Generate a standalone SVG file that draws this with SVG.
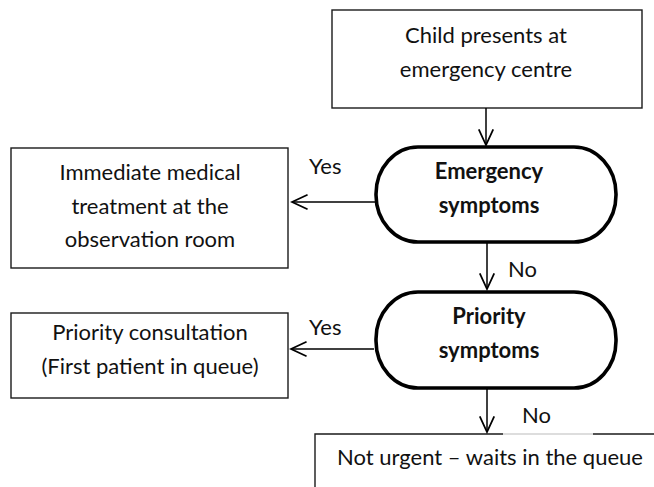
<svg xmlns="http://www.w3.org/2000/svg" width="654" height="487" viewBox="0 0 654 487">
<style>
.box{fill:#fff;stroke:#1a1a1a;stroke-width:1.4}
.term{fill:#fff;stroke:#000;stroke-width:3.6}
.t{font-family:Lato,"Liberation Sans",sans-serif;font-size:22px;fill:#111;text-anchor:middle}
.b{font-weight:bold}
.lbl{font-family:Lato,"Liberation Sans",sans-serif;font-size:22px;fill:#111}
.c{fill:none;stroke:#000;stroke-width:1.5}
</style>
<defs>
<marker id="ah" markerUnits="userSpaceOnUse" markerWidth="20" markerHeight="20" refX="0" refY="0" viewBox="-16 -8 18 16" orient="auto">
<path d="M-14,-6.5 L0,0 L-14,6.5" fill="none" stroke="#000" stroke-width="1.6"/>
</marker>
</defs>
<rect width="654" height="487" fill="#fff"/>
<g id="start">
<rect class="box" x="332" y="10" width="310" height="98"/>
<text class="t" x="486" y="43">Child presents at</text>
<text class="t" x="486" y="77">emergency centre</text>
</g>
<g id="emergency">
<rect class="term" x="376" y="147" width="240" height="95" rx="42" ry="47"/>
<text class="t b" x="489" y="179">Emergency</text>
<text class="t b" x="489" y="213">symptoms</text>
</g>
<g id="immediate">
<rect class="box" x="11" y="148" width="277" height="120"/>
<text class="t" x="150" y="180">Immediate medical</text>
<text class="t" x="150" y="214">treatment at the</text>
<text class="t" x="150" y="247">observation room</text>
</g>
<g id="priority">
<rect class="term" x="376" y="292" width="240" height="96" rx="42" ry="47"/>
<text class="t b" x="489" y="324">Priority</text>
<text class="t b" x="489" y="358">symptoms</text>
</g>
<g id="consultation">
<rect class="box" x="11" y="313" width="277" height="85"/>
<text class="t" x="150" y="340">Priority consultation</text>
<text class="t" x="150" y="374">(First patient in queue)</text>
</g>
<g id="noturgent">
<path d="M315,487 L315,434 L503,434" fill="none" stroke="#1a1a1a" stroke-width="1.4"/>
<path d="M503,434 L593,434" fill="none" stroke="#bbb" stroke-width="1"/>
<path d="M593,434 L654,434" fill="none" stroke="#1a1a1a" stroke-width="1.4"/>
<text class="t" x="490" y="465">Not urgent – waits in the queue</text>
</g>
<g id="connectors">
<path class="c" d="M486,108 L486,145" marker-end="url(#ah)"/>
<path class="c" d="M375,202 L292,202" marker-end="url(#ah)"/>
<path class="c" d="M487,243 L487,289" marker-end="url(#ah)"/>
<path class="c" d="M374,349 L291,349" marker-end="url(#ah)"/>
<path class="c" d="M487,389 L487,432" marker-end="url(#ah)"/>
<text class="lbl" x="309" y="174">Yes</text>
<text class="lbl" x="508" y="277">No</text>
<text class="lbl" x="309" y="335">Yes</text>
<text class="lbl" x="522" y="423">No</text>
</g>
</svg>
